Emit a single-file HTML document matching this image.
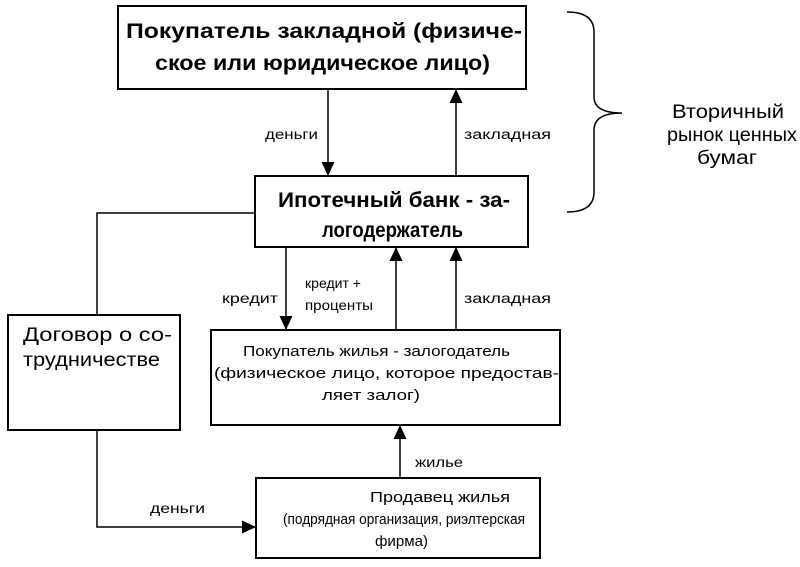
<!DOCTYPE html>
<html><head><meta charset="utf-8"><style>
html,body{margin:0;padding:0;background:#fff;}
svg{display:block;}
text{font-family:"Liberation Sans",sans-serif;fill:#000;}
.b{font-weight:bold;font-size:21px;}
.s{font-size:14px;}
.m{font-size:15px;}
.l{font-size:19px;}
</style></head><body>
<svg width="800" height="567" viewBox="0 0 800 567" xmlns="http://www.w3.org/2000/svg">
<defs><marker id="a" markerWidth="14" markerHeight="14" refX="13" refY="6.5" orient="auto" markerUnits="userSpaceOnUse"><path d="M0,0 L14,6.5 L0,13 Z" fill="#000"/></marker></defs>
<g fill="none" stroke="#000" stroke-width="2">
<rect x="118" y="6" width="408" height="83"/>
<rect x="255" y="176" width="273" height="71"/>
<rect x="8" y="315" width="172" height="115"/>
<rect x="211" y="330" width="349" height="95"/>
<rect x="256" y="478" width="284" height="80"/>
</g>
<g stroke="#000" stroke-width="1.5" fill="none">
<line x1="328" y1="89" x2="328" y2="175" marker-end="url(#a)"/>
<line x1="456" y1="176" x2="456" y2="90" marker-end="url(#a)"/>
<line x1="286" y1="247" x2="286" y2="329" marker-end="url(#a)"/>
<line x1="396" y1="330" x2="396" y2="248" marker-end="url(#a)"/>
<line x1="456" y1="330" x2="456" y2="248" marker-end="url(#a)"/>
<line x1="400" y1="478" x2="400" y2="426" marker-end="url(#a)"/>
<polyline points="255,213 97,213 97,315"/>
<polyline points="97,430 97,527 255,527" marker-end="url(#a)"/>
<path d="M567,12 Q594,12 594,32 L594,97 Q594,113 622,113 Q594,113 594,130 L594,192 Q594,212 567,212"/>
</g>
<text class="b" x="126" y="38" textLength="396" lengthAdjust="spacingAndGlyphs">Покупатель закладной (физиче-</text>
<text class="b" x="155" y="70" textLength="335" lengthAdjust="spacingAndGlyphs">ское или юридическое лицо)</text>
<text class="b" x="278" y="207" textLength="232" lengthAdjust="spacingAndGlyphs">Ипотечный банк - за-</text>
<text class="b" x="322" y="237" textLength="141" lengthAdjust="spacingAndGlyphs">логодержатель</text>
<text class="l" x="23" y="341" textLength="149" lengthAdjust="spacingAndGlyphs">Договор о со-</text>
<text class="l" x="23" y="366" textLength="137" lengthAdjust="spacingAndGlyphs">трудничестве</text>
<text class="m" x="243" y="356" textLength="267" lengthAdjust="spacingAndGlyphs">Покупатель жилья - залогодатель</text>
<text class="m" x="214" y="378" textLength="345" lengthAdjust="spacingAndGlyphs">(физическое лицо, которое предостав-</text>
<text class="m" x="322" y="400" textLength="98" lengthAdjust="spacingAndGlyphs">ляет залог)</text>
<text class="m" x="370" y="502" textLength="140" lengthAdjust="spacingAndGlyphs">Продавец жилья</text>
<text class="m" x="283" y="524" textLength="242" lengthAdjust="spacingAndGlyphs">(подрядная организация, риэлтерская</text>
<text class="m" x="375" y="546" textLength="53" lengthAdjust="spacingAndGlyphs">фирма)</text>
<text class="s" x="265" y="139" textLength="53" lengthAdjust="spacingAndGlyphs">деньги</text>
<text class="s" x="464" y="139" textLength="87" lengthAdjust="spacingAndGlyphs">закладная</text>
<text class="s" x="222" y="303" textLength="56" lengthAdjust="spacingAndGlyphs">кредит</text>
<text class="s" x="305" y="288" textLength="56" lengthAdjust="spacingAndGlyphs">кредит +</text>
<text class="s" x="305" y="310" textLength="68" lengthAdjust="spacingAndGlyphs">проценты</text>
<text class="s" x="464" y="303" textLength="87" lengthAdjust="spacingAndGlyphs">закладная</text>
<text class="s" x="415" y="467" textLength="48" lengthAdjust="spacingAndGlyphs">жилье</text>
<text class="s" x="150" y="513" textLength="55" lengthAdjust="spacingAndGlyphs">деньги</text>
<text class="l" x="672" y="118" textLength="112" lengthAdjust="spacingAndGlyphs">Вторичный</text>
<text class="l" x="667" y="141" textLength="130" lengthAdjust="spacingAndGlyphs">рынок ценных</text>
<text class="l" x="697" y="164" textLength="60" lengthAdjust="spacingAndGlyphs">бумаг</text>
</svg>
</body></html>
